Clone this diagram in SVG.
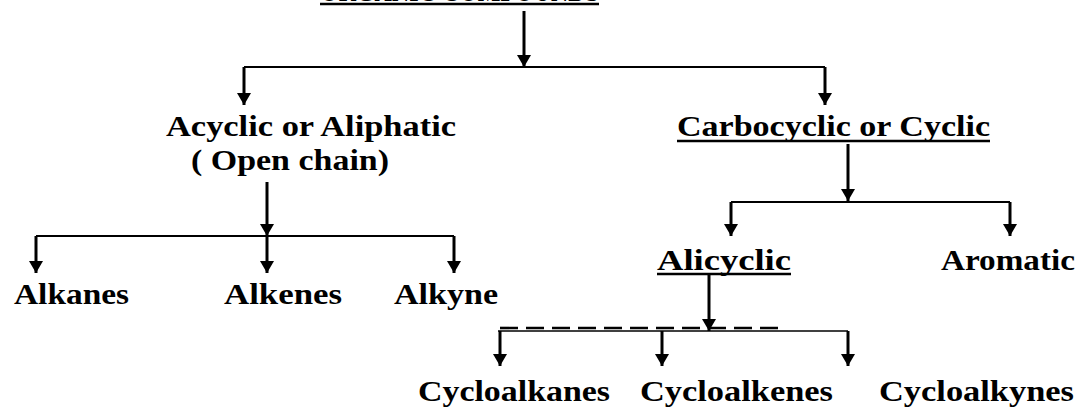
<svg xmlns="http://www.w3.org/2000/svg" width="1080" height="407" viewBox="0 0 1080 407">
  <style>
    .lbl { font-family: 'Liberation Serif', 'Times New Roman', 'DejaVu Serif', serif; font-weight: 700; font-size: 30px; fill: #000; }
    .ul { stroke: #000; stroke-width: 2.5; fill: none; }
    .stem { stroke: #000; stroke-width: 3; fill: none; marker-end: url(#head); }
    .bar { stroke: #000; stroke-width: 2.2; fill: none; }
    .dash { stroke: #000; stroke-width: 2.6; fill: none; stroke-dasharray: 18 8; }
  </style>
  <defs>
    <marker id="head" markerUnits="userSpaceOnUse" markerWidth="16" markerHeight="14" refX="12" refY="7" orient="auto">
      <path d="M0,0 L12,7 L0,14 Z" fill="#000"/>
    </marker>
  </defs>
  <rect width="1080" height="407" fill="#fff"/>

  <!-- root heading (runs off the top edge) -->
  <g id="node-root">
    <text class="lbl" x="320" y="1" textLength="279" lengthAdjust="spacingAndGlyphs">ORGANIC COMPOUNDS</text>
    <line class="ul" x1="320" y1="4" x2="599" y2="4"/>
  </g>

  <g id="node-acyclic">
    <text class="lbl" x="166" y="136" textLength="290" lengthAdjust="spacingAndGlyphs">Acyclic or Aliphatic</text>
    <text class="lbl" x="191" y="170" textLength="198" lengthAdjust="spacingAndGlyphs">( Open chain)</text>
  </g>

  <g id="node-carbocyclic">
    <text class="lbl" x="677" y="136" textLength="313" lengthAdjust="spacingAndGlyphs">Carbocyclic or Cyclic</text>
    <line class="ul" x1="677" y1="141" x2="990" y2="141"/>
  </g>

  <g id="node-alkanes">
    <text class="lbl" x="14" y="304" textLength="115" lengthAdjust="spacingAndGlyphs">Alkanes</text>
  </g>
  <g id="node-alkenes">
    <text class="lbl" x="224" y="304" textLength="118" lengthAdjust="spacingAndGlyphs">Alkenes</text>
  </g>
  <g id="node-alkyne">
    <text class="lbl" x="394" y="304" textLength="104" lengthAdjust="spacingAndGlyphs">Alkyne</text>
  </g>

  <g id="node-alicyclic">
    <text class="lbl" x="657" y="270" textLength="134" lengthAdjust="spacingAndGlyphs">Alicyclic</text>
    <line class="ul" x1="657" y1="274" x2="791" y2="274"/>
  </g>
  <g id="node-aromatic">
    <text class="lbl" x="941" y="270" textLength="134" lengthAdjust="spacingAndGlyphs">Aromatic</text>
  </g>

  <g id="node-cycloalkanes">
    <text class="lbl" x="418" y="401" textLength="192" lengthAdjust="spacingAndGlyphs">Cycloalkanes</text>
  </g>
  <g id="node-cycloalkenes">
    <text class="lbl" x="640" y="401" textLength="193" lengthAdjust="spacingAndGlyphs">Cycloalkenes</text>
  </g>
  <g id="node-cycloalkynes">
    <text class="lbl" x="879" y="401" textLength="195" lengthAdjust="spacingAndGlyphs">Cycloalkynes</text>
  </g>

  <g id="connectors">
    <!-- root split -->
    <line class="stem" x1="524" y1="11" x2="524" y2="67"/>
    <line class="bar" x1="244" y1="67" x2="825" y2="67"/>
    <line class="stem" x1="244" y1="67" x2="244" y2="105"/>
    <line class="stem" x1="825" y1="67" x2="825" y2="105"/>

    <!-- acyclic split -->
    <line class="stem" x1="267" y1="182" x2="267" y2="236"/>
    <line class="bar" x1="36" y1="236" x2="454" y2="236"/>
    <line class="stem" x1="36" y1="236" x2="36" y2="273"/>
    <line class="stem" x1="267" y1="236" x2="267" y2="273"/>
    <line class="stem" x1="454" y1="236" x2="454" y2="273"/>

    <!-- carbocyclic split -->
    <line class="stem" x1="848" y1="144" x2="848" y2="201"/>
    <line class="bar" x1="731" y1="202" x2="1010" y2="202"/>
    <line class="stem" x1="731" y1="202" x2="731" y2="236"/>
    <line class="stem" x1="1010" y1="202" x2="1010" y2="236"/>

    <!-- alicyclic split -->
    <line class="stem" x1="709" y1="275" x2="709" y2="331"/>
    <line class="bar" x1="498" y1="331" x2="848" y2="331" style="stroke-width:1.6"/>
    <line class="dash" x1="500" y1="328" x2="778" y2="328"/>
    <line class="stem" x1="500" y1="331" x2="500" y2="366"/>
    <line class="stem" x1="662" y1="331" x2="662" y2="366"/>
    <line class="stem" x1="848" y1="331" x2="848" y2="366"/>
  </g>
</svg>
